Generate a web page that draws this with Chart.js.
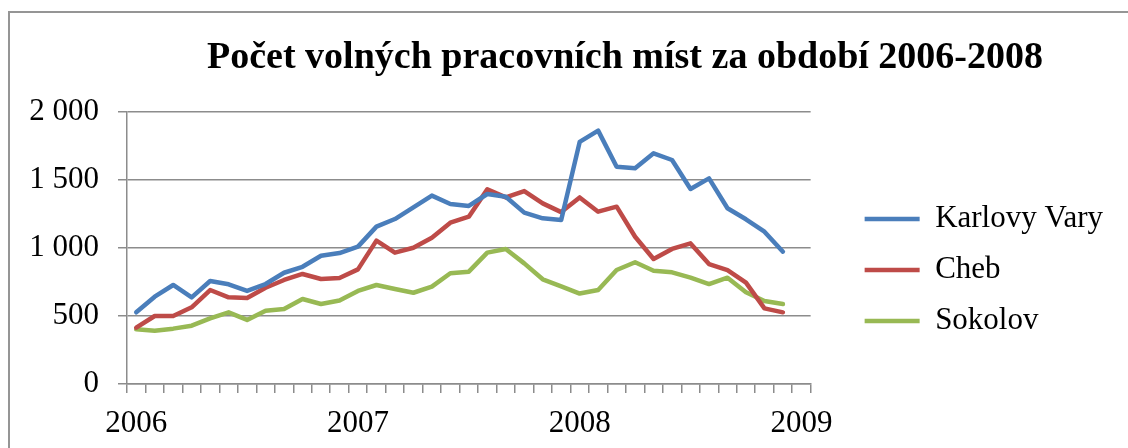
<!DOCTYPE html>
<html><head><meta charset="utf-8">
<script src="https://cdn.jsdelivr.net/npm/chart.js@4.4.1/dist/chart.umd.min.js"></script>
<style>
html,body{margin:0;padding:0;background:#fff;overflow:hidden;}
#wrap{position:relative;width:1128px;height:448px;overflow:hidden;background:#fff;}
#frame{position:absolute;left:8px;top:11px;width:2000px;height:2000px;border-left:2px solid #959595;border-top:2px solid #959595;}
#title{position:absolute;left:625px;top:36px;transform:translateX(-50%);white-space:nowrap;font-family:'Liberation Serif','Times New Roman',serif;font-weight:bold;font-size:38px;line-height:38px;color:#000;}
canvas{position:absolute;left:0;top:0;}
</style></head>
<body><div id="wrap"><div id="frame"></div><canvas id="c" width="1128" height="448"></canvas><div id="title">Počet volných pracovních míst za období 2006-2008</div></div>
<script>
const categories = ['01/2006','02/2006','03/2006','04/2006','05/2006','06/2006','07/2006','08/2006','09/2006','10/2006','11/2006','12/2006',
  '01/2007','02/2007','03/2007','04/2007','05/2007','06/2007','07/2007','08/2007','09/2007','10/2007','11/2007','12/2007',
  '01/2008','02/2008','03/2008','04/2008','05/2008','06/2008','07/2008','08/2008','09/2008','10/2008','11/2008','12/2008',
  '01/2009'];
const yearTickLabels = {'01/2006':'2006','01/2007':'2007','01/2008':'2008','01/2009':'2009'};
const seriesNames = ['Karlovy Vary','Cheb','Sokolov'];
const karlovyVary = [527,642,728,637,757,733,684,735,818,862,943,963,
  1010,1157,1213,1299,1385,1324,1309,1397,1377,1260,1218,1206,
  1780,1863,1598,1586,1696,1647,1434,1512,1292,1211,1120,973];
const cheb = [414,500,500,564,691,637,632,708,765,809,772,780,
  843,1054,966,1002,1076,1186,1230,1431,1372,1419,1328,1264,
  1372,1267,1304,1083,919,993,1034,882,838,745,556,527];
const sokolov = [402,392,407,429,483,527,471,539,551,625,588,614,
  684,728,698,671,716,814,826,966,993,887,770,718,
  665,691,838,895,833,821,782,735,782,674,610,588];
const seriesColors = ['#4A7EBB','#BE4B48','#98B954'];
const yMin = 0, yMax = 2000, yStep = 500;

const F = "'Liberation Serif','Times New Roman',serif";
const GRID = '#8C8C8C';
function fmtThousands(v){ return String(v).replace(/\B(?=(\d{3})+(?!\d))/g, '\u00a0'); }

// nudges the legend block to the right of / lower within the area beside the plot
const legendPlacement = {
  id: 'legendPlacement',
  afterLayout(chart) {
    const l = chart.legend;
    if (!l) return;
    l.left += 34; l.right += 34;
    l.top += 22; l.bottom += 22;
  }
};

const seriesData = [karlovyVary, cheb, sokolov];
new Chart(document.getElementById('c'), {
  type: 'line',
  data: {
    labels: categories,
    datasets: seriesNames.map((n, i) => ({
      label: n,
      data: seriesData[i],
      borderColor: seriesColors[i],
      backgroundColor: seriesColors[i],
      borderWidth: 4.5,
      borderCapStyle: 'round',
      borderJoinStyle: 'round',
      pointRadius: 0,
      pointHoverRadius: 0,
      tension: 0,
      fill: false
    }))
  },
  plugins: [legendPlacement],
  options: {
    responsive: false,
    animation: false,
    layout: { padding: { left: 0, top: 112, right: 49, bottom: 0 } },
    plugins: {
      title: { display: false },
      tooltip: { enabled: false },
      legend: {
        position: 'right',
        align: 'center',
        fullSize: false,
        labels: {
          font: { family: F, size: 31 },
          color: '#000',
          boxWidth: 55,
          padding: 20,
          usePointStyle: true,
          pointStyle: 'line',
          pointStyleWidth: 55
        }
      }
    },
    scales: {
      x: {
        type: 'category',
        offset: true,
        grid: { display: true, offset: true, drawOnChartArea: false, drawTicks: true, tickLength: 9, color: GRID, lineWidth: 1.5 },
        border: { display: true, color: GRID, width: 1.5 },
        ticks: {
          autoSkip: false, maxRotation: 0, minRotation: 0, padding: 12,
          font: { family: F, size: 31 }, color: '#000',
          callback: function(v, i){ return yearTickLabels[categories[i]] || ''; }
        },
        afterFit: function(s){ s.height = 64; }
      },
      y: {
        min: yMin, max: yMax,
        ticks: { stepSize: yStep, padding: 19, font: { family: F, size: 31 }, color: '#000', callback: v => fmtThousands(v) },
        grid: { color: GRID, lineWidth: 1.5, drawTicks: true, tickLength: 9 },
        border: { display: true, color: GRID, width: 1.5 },
        afterFit: function(s){ s.width = 127; }
      }
    }
  }
});
</script>
</body></html>
